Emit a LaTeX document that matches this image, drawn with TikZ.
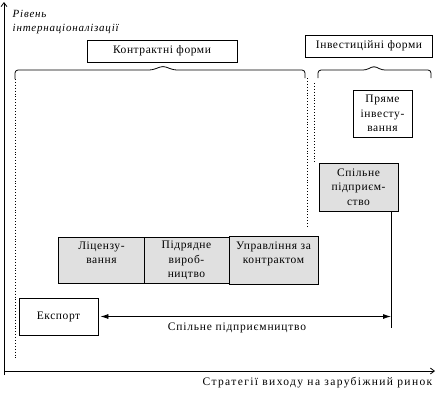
\documentclass[tikz,border=0pt]{standalone}
\usepackage{fontspec}
\setmainfont{Liberation Serif}[LetterSpace=5]
\newfontfamily\axisfont{Liberation Serif}[LetterSpace=12]
\newfontfamily\ylabfont{Liberation Serif Italic}[LetterSpace=7]
\newfontfamily\rangefont{Liberation Serif}[LetterSpace=7]
\usetikzlibrary{arrows.meta}
\definecolor{boxgray}{RGB}{224,224,224}
\tikzset{
  formbox/.style={draw, align=center, inner sep=1pt},
  graybox/.style={formbox, fill=boxgray},
  dotline/.style={dotted, line width=0.9pt},
}
\begin{document}
\begin{tikzpicture}[x=1pt, y=-1pt, line width=0.8pt, font=\fontsize{11.5}{14.5}\selectfont]
    \useasboundingbox (0,0) rectangle (437,392);

    % Draw the axes
    \coordinate (origin) at (4,371);
    \coordinate (ytop) at (4,2);
    \coordinate (xend) at (435,371);
    \draw[-{Straight Barb[length=4pt,width=6pt]}] (origin |- 0,375) -- (ytop);
    \draw[-{Straight Barb[length=4pt,width=6pt]}] (origin) -- (xend);
    \node[anchor=north west, align=left, font=\fontsize{11}{14}\ylabfont] (ylab) at (9,6) {Рівень\\інтернаціоналізації};
    \node[anchor=east, font=\fontsize{11.5}{14.5}\axisfont] (xlab) at (436,383) {Стратегії виходу на зарубіжний ринок};

    % Headings of the two groups
    \node[formbox, minimum width=150pt, minimum height=22pt] (contr) at (162,51) {Контрактні форми};
    \node[formbox, minimum width=127pt, minimum height=22pt] (invest) at (369,46) {Інвестиційні форми};

    % Braces under the headings
    \draw[rounded corners=3pt] (15,79) -- (15,70) -- (152,70) -- (163,66) -- (174,70) -- (305,70) -- (305,78);
    \draw[rounded corners=3pt] (318,78) -- (318,70) -- (366,70) -- (374,66) -- (382,70) -- (431,70) -- (431,78);

    % Dotted borders of the groups
    \draw[dotline] (15,79) -- (15,358);
    \draw[dotline] (307,78) -- (307,228);
    \draw[dotline] (314,83) -- (314,163);

    % The forms of entry
    \node[formbox, minimum width=59pt, minimum height=47pt] (direct) at (382.5,113.5) {Пряме\\інвесту-\\вання};
    \node[graybox, minimum width=79pt, minimum height=48pt] (joint) at (358.5,187) {Спільне\\підприєм-\\ство};
    \node[graybox, minimum width=87pt, minimum height=46pt] (licence) at (101.5,260) {Ліцензу-\\вання\\\mbox{}};
    \node[graybox, minimum width=85pt, minimum height=46pt] (subcontract) at (186.5,260.5) {Підрядне\\вироб-\\ництво};
    \node[graybox, minimum width=89pt, minimum height=48pt] (management) at (273.5,260) {Управління за\\контрактом\\\mbox{}};
    \node[formbox, minimum width=79pt, minimum height=37pt] (export) at (58.5,316.5) {Експорт};

    % Range of joint entrepreneurship
    \coordinate (jointend) at (391,328);
    \draw (joint.south -| jointend) -- (jointend);
    \draw[{Latex[length=8pt,width=5pt]}-{Latex[length=8pt,width=5pt]}] ([xshift=2pt]export.east) -- (export.east -| jointend);
    \node[font=\fontsize{11.5}{14.5}\rangefont] (range) at (237,328) {Спільне підприємництво};
\end{tikzpicture}
\end{document}
